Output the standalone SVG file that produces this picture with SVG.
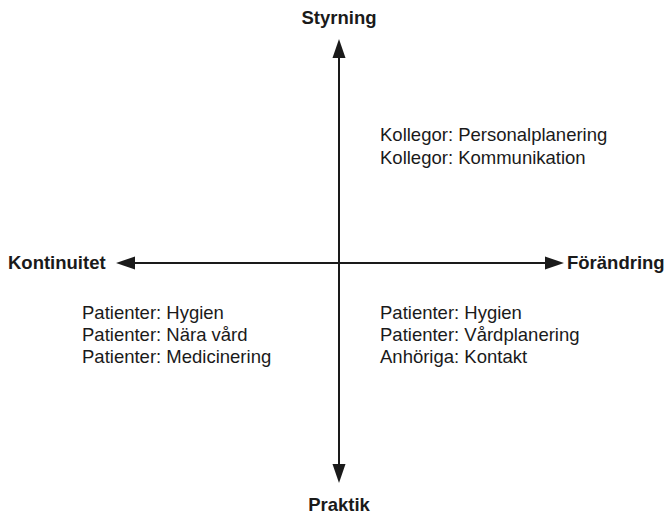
<svg xmlns="http://www.w3.org/2000/svg" width="667" height="515" viewBox="0 0 667 515">
<style>
.ax{stroke:#1a1a1a;stroke-width:2;fill:none}
.hd{fill:#1a1a1a}
.b{font-family:"Liberation Sans",Arial,sans-serif;font-weight:bold;font-size:18.5px;fill:#1a1a1a}
.t{font-family:"Liberation Sans",Arial,sans-serif;font-size:18.5px;fill:#1a1a1a}
</style>
<rect width="667" height="515" fill="#fff"/>
<g id="connectors">
<line class="ax" x1="339" y1="55" x2="339" y2="468"/>
<polygon class="hd" points="339,39 332.5,58 345.5,58"/>
<polygon class="hd" points="339,483 332.5,464 345.5,464"/>
<line class="ax" x1="132" y1="263" x2="550" y2="263"/>
<polygon class="hd" points="116,263 135,256.5 135,269.5"/>
<polygon class="hd" points="564,263 545,256.5 545,269.5"/>
</g>
<g id="styrning"><text class="b" x="339" y="24" text-anchor="middle">Styrning</text></g>
<g id="praktik"><text class="b" x="339" y="511" text-anchor="middle">Praktik</text></g>
<g id="kontinuitet"><text class="b" x="8" y="269">Kontinuitet</text></g>
<g id="forandring"><text class="b" x="567" y="269">Förändring</text></g>
<g id="q1">
<text class="t" x="380" y="141">Kollegor: Personalplanering</text>
<text class="t" x="380" y="164">Kollegor: Kommunikation</text>
</g>
<g id="q3">
<text class="t" x="82" y="319">Patienter: Hygien</text>
<text class="t" x="82" y="341">Patienter: Nära vård</text>
<text class="t" x="82" y="363">Patienter: Medicinering</text>
</g>
<g id="q4">
<text class="t" x="380" y="319">Patienter: Hygien</text>
<text class="t" x="380" y="341">Patienter: Vårdplanering</text>
<text class="t" x="380" y="363">Anhöriga: Kontakt</text>
</g>
</svg>
